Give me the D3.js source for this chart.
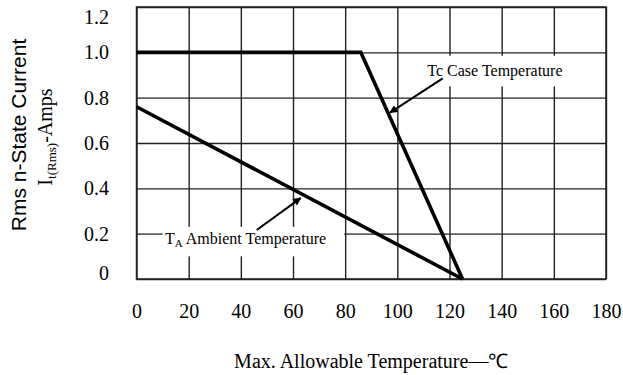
<!DOCTYPE html>
<html>
<head>
<meta charset="utf-8">
<script src="https://cdn.jsdelivr.net/npm/d3@7"></script>
<style>
  html, body { margin: 0; padding: 0; background: #fff; }
  svg { display: block; }
</style>
</head>
<body>
<svg id="chart" width="623" height="375"></svg>
<script>
// ---- data ----
const xTicks = [0, 20, 40, 60, 80, 100, 120, 140, 160, 180];
const yTicks = [0, 0.2, 0.4, 0.6, 0.8, 1.0, 1.2];
const caseTemp = [0, 86, 125];
const caseCurrent = [1.0, 1.0, 0];
const ambientTemp = [0, 125];
const ambientCurrent = [0.76, 0];
const caseLabel = "Tc Case Temperature";
const ambientLabelMain = "T";
const ambientLabelSub = "A";
const ambientLabelRest = " Ambient Temperature";
const yTitle1 = "Rms n-State Current";
const xTitle = "Max. Allowable Temperature\u2014\u2103";

const serif = "'Times New Roman', 'Liberation Serif', serif";
const sans = "Arial, 'Liberation Sans', sans-serif";

const svg = d3.select("#chart");
svg.append("rect").attr("width", 623).attr("height", 375).attr("fill", "#fff");

const pLeft = 136.5, pRight = 606, pTop = 7, pBottom = 279;
const x = d3.scaleLinear().domain([0, 180]).range([pLeft, pRight]);
const y = d3.scaleLinear().domain([0, 1.2]).range([pBottom, pTop]);

// grid + tick labels
const gx = svg.append("g").attr("transform", `translate(0,${pBottom})`)
  .call(d3.axisBottom(x).tickValues(xTicks).tickFormat(d3.format("d"))
    .tickSizeInner(-(pBottom - pTop)).tickSizeOuter(0).tickPadding(25));
const gy = svg.append("g").attr("transform", `translate(${pLeft},0)`)
  .call(d3.axisLeft(y).tickValues(yTicks).tickFormat(d => d === 0 ? "0" : d3.format(".1f")(d))
    .tickSizeInner(-(pRight - pLeft)).tickSizeOuter(0).tickPadding(27.5));
[gx, gy].forEach(g => {
  g.select(".domain").remove();
  g.selectAll(".tick line").attr("stroke", "#222").attr("stroke-width", 1.4);
  g.selectAll(".tick text").attr("fill", "#000").style("font-family", serif).style("font-size", "20px");
});
// end labels sit inside the frame as in the original
gy.selectAll(".tick text").attr("dy", d => d === 1.2 ? "0.8em" : d === 0 ? "0" : "0.32em");

// border
svg.append("rect").attr("x", pLeft).attr("y", pTop)
  .attr("width", pRight - pLeft).attr("height", pBottom - pTop)
  .attr("fill", "none").attr("stroke", "#222").attr("stroke-width", 1.5);

// white label boxes (covering grid)
svg.append("rect").attr("x", x(10)).attr("y", y(0.23))
  .attr("width", x(80) - x(10) - 1).attr("height", y(0.1) - y(0.23)).attr("fill", "#fff");
svg.append("rect").attr("x", x(109)).attr("y", y(0.985))
  .attr("width", x(166) - x(109)).attr("height", y(0.85) - y(0.985)).attr("fill", "#fff");

// data lines
const line = d3.line().x(d => x(d[0])).y(d => y(d[1]));
svg.append("path").datum(caseTemp.map((t, i) => [t, caseCurrent[i]]))
  .attr("d", line).attr("fill", "none").attr("stroke", "#000").attr("stroke-width", 3.6)
  .attr("stroke-linejoin", "miter");
svg.append("path").datum(ambientTemp.map((t, i) => [t, ambientCurrent[i]]))
  .attr("d", line).attr("fill", "none").attr("stroke", "#000").attr("stroke-width", 3.6);

// arrow marker
svg.append("defs").append("marker").attr("id", "ah")
  .attr("viewBox", "0 0 10 10").attr("refX", 9).attr("refY", 5)
  .attr("markerWidth", 10).attr("markerHeight", 8).attr("orient", "auto")
  .attr("markerUnits", "userSpaceOnUse")
  .append("path").attr("d", "M0,0 L10,5 L0,10 Z").attr("fill", "#000");

svg.append("line").attr("x1", x(46.1)).attr("y1", y(0.216)).attr("x2", x(62.9)).attr("y2", y(0.357))
  .attr("stroke", "#000").attr("stroke-width", 2).attr("marker-end", "url(#ah)");
svg.append("line").attr("x1", x(117.4)).attr("y1", y(0.885)).attr("x2", x(97.2)).attr("y2", y(0.734))
  .attr("stroke", "#000").attr("stroke-width", 2).attr("marker-end", "url(#ah)");

// annotation labels
const ta = svg.append("text").attr("x", x(10.9)).attr("y", y(0.154))
  .style("font-family", serif).style("font-size", "16px").attr("fill", "#000");
ta.append("tspan").text(ambientLabelMain);
ta.append("tspan").attr("dy", 3).style("font-size", "11px").text(ambientLabelSub);
ta.append("tspan").attr("dy", -3).text(ambientLabelRest);

svg.append("text").attr("x", x(111.5)).attr("y", y(0.895))
  .style("font-family", serif).style("font-size", "16px").attr("fill", "#000").text(caseLabel);

// y titles
svg.append("text").attr("transform", "translate(26,135) rotate(-90)")
  .attr("text-anchor", "middle").style("font-family", sans).style("font-size", "21px")
  .attr("fill", "#000").text(yTitle1);
const yt2 = svg.append("text").attr("transform", "translate(52,137) rotate(-90)")
  .attr("text-anchor", "middle").style("font-family", serif).style("font-size", "20px")
  .attr("fill", "#000");
yt2.append("tspan").text("I");
yt2.append("tspan").attr("dy", 4).style("font-size", "13px").text("t(Rms)");
yt2.append("tspan").attr("dy", -4).text("-Amps");

// x title
svg.append("text").attr("x", (pLeft + pRight) / 2).attr("y", 368)
  .attr("text-anchor", "middle").style("font-family", serif).style("font-size", "20px")
  .attr("fill", "#000").text(xTitle);
</script>
</body>
</html>
